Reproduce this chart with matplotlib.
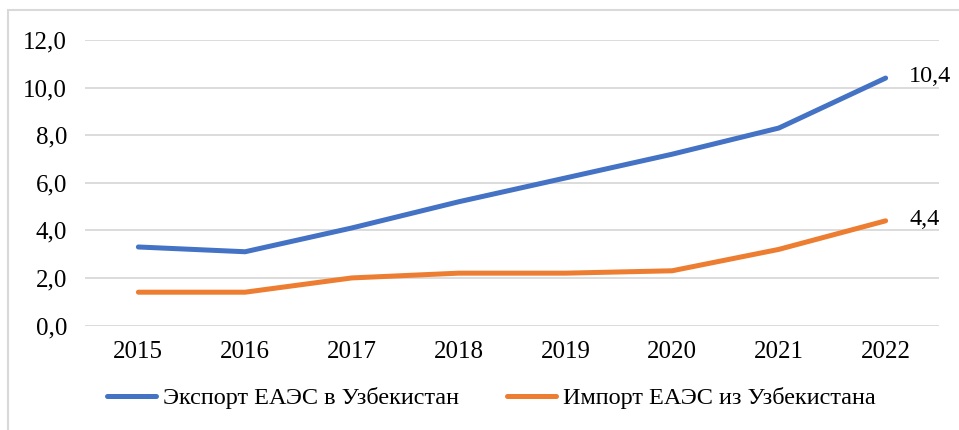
import matplotlib
matplotlib.use("Agg")
import matplotlib.pyplot as plt
from matplotlib.patches import Rectangle
from matplotlib.lines import Line2D

years = ["2015", "2016", "2017", "2018", "2019", "2020", "2021", "2022"]
export_vals = [3.3, 3.1, 4.1, 5.2, 6.2, 7.2, 8.3, 10.4]
import_vals = [1.4, 1.4, 2.0, 2.2, 2.2, 2.3, 3.2, 4.4]
series_names = ["Экспорт ЕАЭС в Узбекистан", "Импорт ЕАЭС из Узбекистана"]
yticks = [0, 2, 4, 6, 8, 10, 12]

plt.rcParams['font.family'] = ['Liberation Serif', 'DejaVu Serif']

W, H = 959, 430
fig = plt.figure(figsize=(W/100, H/100), dpi=100)
fig.patches.append(Rectangle((8/W, -0.1), 1.2, 1 - 10/H + 0.1, transform=fig.transFigure,
                             fill=False, edgecolor="#D9D9D9", linewidth=1.5))

ax = fig.add_axes([85/W, 1 - 325.5/H, (939 - 85)/W, (325.5 - 40)/H])
x = [i + 0.5 for i in range(len(years))]
blue = "#4472C4"
orange = "#ED7D31"
LW = 3.6
ax.plot(x, export_vals, color=blue, lw=LW, solid_capstyle="round", zorder=3)
ax.plot(x, import_vals, color=orange, lw=LW, solid_capstyle="round", zorder=3)

ax.set_xlim(0, len(years))
ax.set_ylim(0, 12)
ax.set_yticks(yticks)
ax.set_yticklabels([f"{v:.1f}".replace(".", ",") for v in yticks], fontsize=18)
ax.set_xticks(x)
ax.set_xticklabels(years, fontsize=18)
ax.tick_params(length=0)
ax.tick_params(axis='x', pad=11)
ax.tick_params(axis='y', pad=13)
ax.grid(axis='y', color="#D9D9D9", lw=1.3)
ax.set_axisbelow(True)
for s in ax.spines.values():
    s.set_visible(False)

for vals in (export_vals, import_vals):
    ax.annotate(f"{vals[-1]:.1f}".replace(".", ","), (x[-1], vals[-1]),
                xytext=(17, 1), textcoords="offset points", fontsize=17.5,
                ha="left", va="center")

handles = [Line2D([], [], color=blue, lw=LW, solid_capstyle="round"),
           Line2D([], [], color=orange, lw=LW, solid_capstyle="round")]
fig.legend(handles, series_names, loc="center", bbox_to_anchor=(0.5 + 12/W, 1 - 398/H),
           ncol=2, frameon=False, fontsize=17.5, handlelength=2.0, handletextpad=0.3,
           columnspacing=2.0)

fig.savefig("out.png", dpi=100)
